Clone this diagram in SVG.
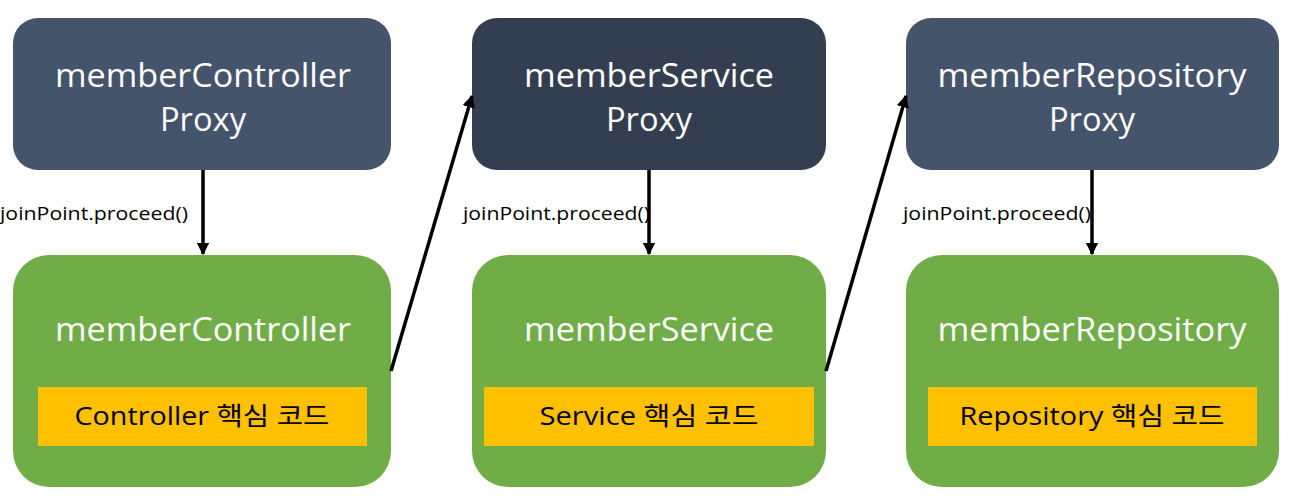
<svg xmlns="http://www.w3.org/2000/svg" width="1302" height="502" viewBox="0 0 1302 502">
<style>
.proxy{fill:#44546A}
.proxy.dark{fill:#333F50}
.target{fill:#70AD47}
.core{fill:#FFC000}
.t{font-family:"Open Sans","Noto Sans CJK KR",sans-serif;text-anchor:middle}
.w{fill:#FFFFFF;font-size:33px}
.c{fill:#000000;font-size:25px}
.lbl{font-family:"Open Sans","Noto Sans CJK KR",sans-serif;font-size:19px;fill:#000000}
.conn{stroke:#000000;stroke-width:3.5;fill:none}
</style>
<defs>
<marker id="ah" viewBox="0 0 10 10" refX="9" refY="5" markerWidth="3.6" markerHeight="3.6" orient="auto" markerUnits="strokeWidth">
<path d="M0,0 L10,5 L0,10 z" fill="#000000"/>
</marker>
</defs>
<g id="memberControllerProxy">
<rect class="proxy" x="13" y="18" width="378" height="152" rx="25"/>
<text class="t w" x="203" y="87" textLength="296" lengthAdjust="spacingAndGlyphs">memberController</text>
<text class="t w" x="203" y="131" textLength="86" lengthAdjust="spacingAndGlyphs">Proxy</text>
</g>
<g id="memberServiceProxy">
<rect class="proxy dark" x="472" y="18" width="354" height="152" rx="25"/>
<text class="t w" x="649" y="87" textLength="250" lengthAdjust="spacingAndGlyphs">memberService</text>
<text class="t w" x="649" y="131" textLength="86" lengthAdjust="spacingAndGlyphs">Proxy</text>
</g>
<g id="memberRepositoryProxy">
<rect class="proxy" x="906" y="18" width="373" height="152" rx="25"/>
<text class="t w" x="1092" y="87" textLength="309" lengthAdjust="spacingAndGlyphs">memberRepository</text>
<text class="t w" x="1092" y="131" textLength="86" lengthAdjust="spacingAndGlyphs">Proxy</text>
</g>
<g id="memberController">
<rect class="target" x="13" y="255" width="378" height="232" rx="36"/>
<text class="t w" x="203" y="341" textLength="296" lengthAdjust="spacingAndGlyphs">memberController</text>
<rect class="core" x="38" y="387" width="329" height="59"/>
<text class="t c" x="202" y="425" textLength="255" lengthAdjust="spacingAndGlyphs">Controller 핵심 코드</text>
</g>
<g id="memberService">
<rect class="target" x="472" y="255" width="354" height="232" rx="36"/>
<text class="t w" x="649" y="341" textLength="250" lengthAdjust="spacingAndGlyphs">memberService</text>
<rect class="core" x="484" y="387" width="330" height="59"/>
<text class="t c" x="649" y="425" textLength="219" lengthAdjust="spacingAndGlyphs">Service 핵심 코드</text>
</g>
<g id="memberRepository">
<rect class="target" x="906" y="255" width="373" height="232" rx="36"/>
<text class="t w" x="1092" y="341" textLength="309" lengthAdjust="spacingAndGlyphs">memberRepository</text>
<rect class="core" x="928" y="387" width="329" height="59"/>
<text class="t c" x="1092" y="425" textLength="265" lengthAdjust="spacingAndGlyphs">Repository 핵심 코드</text>
</g>
<g id="connectors">
<line class="conn" x1="203" y1="170" x2="203" y2="254" marker-end="url(#ah)"/>
<line class="conn" x1="649" y1="170" x2="649" y2="254" marker-end="url(#ah)"/>
<line class="conn" x1="1092" y1="170" x2="1092" y2="254" marker-end="url(#ah)"/>
<line class="conn" x1="391" y1="371" x2="472" y2="96" marker-end="url(#ah)"/>
<line class="conn" x1="826" y1="371" x2="906" y2="96" marker-end="url(#ah)"/>
<text class="lbl" x="0" y="220" textLength="188" lengthAdjust="spacingAndGlyphs">joinPoint.proceed()</text>
<text class="lbl" x="463" y="220" textLength="187" lengthAdjust="spacingAndGlyphs">joinPoint.proceed()</text>
<text class="lbl" x="903" y="220" textLength="188" lengthAdjust="spacingAndGlyphs">joinPoint.proceed()</text>
</g>
</svg>
